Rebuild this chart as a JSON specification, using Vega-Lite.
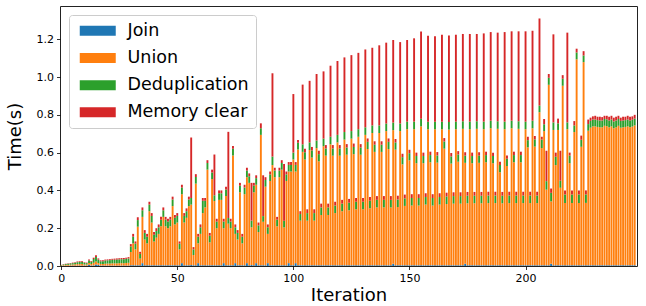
{
"$schema": "https://vega.github.io/schema/vega-lite/v6.json",
"width": 577, "height": 260,
"autosize": {"type": "none"},
"padding": {"left": 60, "top": 6, "right": 9, "bottom": 40},
"config": {
 "font": "DejaVu Sans",
 "view": {"stroke": "#222", "strokeWidth": 1},
 "axis": {"grid": false, "domain": false, "tickColor": "#000", "tickSize": 3.5, "tickWidth": 0.8, "labelColor": "#000", "labelFontSize": 11, "labelFont": "DejaVu Sans", "titleFont": "DejaVu Sans", "titleFontSize": 18, "titleFontWeight": "normal", "titleColor": "#000"}
},
"data": {"values": [
{"i":0,"Join":0.001,"Union":0.002,"Deduplication":0.002,"Memory clear":0.001},
{"i":1,"Join":0.001,"Union":0.003,"Deduplication":0.004,"Memory clear":0.002},
{"i":2,"Join":0.001,"Union":0.004,"Deduplication":0.005,"Memory clear":0.002},
{"i":3,"Join":0.001,"Union":0.005,"Deduplication":0.006,"Memory clear":0.002},
{"i":4,"Join":0.002,"Union":0.005,"Deduplication":0.007,"Memory clear":0.002},
{"i":5,"Join":0.002,"Union":0.006,"Deduplication":0.007,"Memory clear":0.003},
{"i":6,"Join":0.002,"Union":0.007,"Deduplication":0.008,"Memory clear":0.003},
{"i":7,"Join":0.002,"Union":0.008,"Deduplication":0.010,"Memory clear":0.004},
{"i":8,"Join":0.002,"Union":0.008,"Deduplication":0.011,"Memory clear":0.004},
{"i":9,"Join":0.002,"Union":0.009,"Deduplication":0.011,"Memory clear":0.004},
{"i":10,"Join":0.002,"Union":0.006,"Deduplication":0.009,"Memory clear":0.003},
{"i":11,"Join":0.002,"Union":0.006,"Deduplication":0.007,"Memory clear":0.003},
{"i":12,"Join":0.006,"Union":0.010,"Deduplication":0.013,"Memory clear":0.005},
{"i":13,"Join":0.002,"Union":0.008,"Deduplication":0.012,"Memory clear":0.004},
{"i":14,"Join":0.003,"Union":0.014,"Deduplication":0.020,"Memory clear":0.007},
{"i":15,"Join":0.008,"Union":0.016,"Deduplication":0.024,"Memory clear":0.009},
{"i":16,"Join":0.006,"Union":0.010,"Deduplication":0.018,"Memory clear":0.006},
{"i":17,"Join":0.002,"Union":0.009,"Deduplication":0.014,"Memory clear":0.005},
{"i":18,"Join":0.002,"Union":0.009,"Deduplication":0.014,"Memory clear":0.005},
{"i":19,"Join":0.002,"Union":0.010,"Deduplication":0.017,"Memory clear":0.005},
{"i":20,"Join":0.002,"Union":0.011,"Deduplication":0.017,"Memory clear":0.005},
{"i":21,"Join":0.002,"Union":0.011,"Deduplication":0.018,"Memory clear":0.005},
{"i":22,"Join":0.002,"Union":0.012,"Deduplication":0.019,"Memory clear":0.005},
{"i":23,"Join":0.002,"Union":0.012,"Deduplication":0.019,"Memory clear":0.006},
{"i":24,"Join":0.002,"Union":0.012,"Deduplication":0.020,"Memory clear":0.006},
{"i":25,"Join":0.002,"Union":0.013,"Deduplication":0.020,"Memory clear":0.006},
{"i":26,"Join":0.002,"Union":0.013,"Deduplication":0.021,"Memory clear":0.006},
{"i":27,"Join":0.002,"Union":0.013,"Deduplication":0.021,"Memory clear":0.007},
{"i":28,"Join":0.002,"Union":0.014,"Deduplication":0.022,"Memory clear":0.006},
{"i":29,"Join":0.002,"Union":0.015,"Deduplication":0.023,"Memory clear":0.007},
{"i":30,"Join":0.004,"Union":0.070,"Deduplication":0.030,"Memory clear":0.012},
{"i":31,"Join":0.004,"Union":0.116,"Deduplication":0.035,"Memory clear":0.015},
{"i":32,"Join":0.004,"Union":0.084,"Deduplication":0.030,"Memory clear":0.012},
{"i":33,"Join":0.004,"Union":0.204,"Deduplication":0.035,"Memory clear":0.015},
{"i":34,"Join":0.004,"Union":0.035,"Deduplication":0.025,"Memory clear":0.011},
{"i":35,"Join":0.015,"Union":0.245,"Deduplication":0.035,"Memory clear":0.015},
{"i":36,"Join":0.004,"Union":0.136,"Deduplication":0.035,"Memory clear":0.015},
{"i":37,"Join":0.004,"Union":0.116,"Deduplication":0.035,"Memory clear":0.015},
{"i":38,"Join":0.004,"Union":0.286,"Deduplication":0.035,"Memory clear":0.015},
{"i":39,"Join":0.004,"Union":0.226,"Deduplication":0.035,"Memory clear":0.015},
{"i":40,"Join":0.004,"Union":0.126,"Deduplication":0.035,"Memory clear":0.015},
{"i":41,"Join":0.004,"Union":0.146,"Deduplication":0.035,"Memory clear":0.015},
{"i":42,"Join":0.004,"Union":0.166,"Deduplication":0.035,"Memory clear":0.015},
{"i":43,"Join":0.004,"Union":0.206,"Deduplication":0.035,"Memory clear":0.015},
{"i":44,"Join":0.004,"Union":0.256,"Deduplication":0.035,"Memory clear":0.015},
{"i":45,"Join":0.004,"Union":0.206,"Deduplication":0.035,"Memory clear":0.015},
{"i":46,"Join":0.004,"Union":0.196,"Deduplication":0.035,"Memory clear":0.015},
{"i":47,"Join":0.004,"Union":0.206,"Deduplication":0.035,"Memory clear":0.015},
{"i":48,"Join":0.004,"Union":0.313,"Deduplication":0.035,"Memory clear":0.015},
{"i":49,"Join":0.004,"Union":0.216,"Deduplication":0.035,"Memory clear":0.015},
{"i":50,"Join":0.004,"Union":0.226,"Deduplication":0.035,"Memory clear":0.015},
{"i":51,"Join":0.004,"Union":0.084,"Deduplication":0.030,"Memory clear":0.012},
{"i":52,"Join":0.015,"Union":0.365,"Deduplication":0.035,"Memory clear":0.015},
{"i":53,"Join":0.004,"Union":0.226,"Deduplication":0.035,"Memory clear":0.015},
{"i":54,"Join":0.004,"Union":0.251,"Deduplication":0.035,"Memory clear":0.015},
{"i":55,"Join":0.004,"Union":0.313,"Deduplication":0.035,"Memory clear":0.015},
{"i":56,"Join":0.005,"Union":0.320,"Deduplication":0.035,"Memory clear":0.320},
{"i":57,"Join":0.004,"Union":0.054,"Deduplication":0.030,"Memory clear":0.012},
{"i":58,"Join":0.004,"Union":0.432,"Deduplication":0.035,"Memory clear":0.015},
{"i":59,"Join":0.015,"Union":0.105,"Deduplication":0.035,"Memory clear":0.015},
{"i":60,"Join":0.004,"Union":0.166,"Deduplication":0.035,"Memory clear":0.015},
{"i":61,"Join":0.004,"Union":0.276,"Deduplication":0.065,"Memory clear":0.015},
{"i":62,"Join":0.004,"Union":0.306,"Deduplication":0.035,"Memory clear":0.015},
{"i":63,"Join":0.004,"Union":0.506,"Deduplication":0.035,"Memory clear":0.015},
{"i":64,"Join":0.004,"Union":0.121,"Deduplication":0.035,"Memory clear":0.015},
{"i":65,"Join":0.004,"Union":0.456,"Deduplication":0.035,"Memory clear":0.015},
{"i":66,"Join":0.004,"Union":0.340,"Deduplication":0.030,"Memory clear":0.216},
{"i":67,"Join":0.004,"Union":0.196,"Deduplication":0.035,"Memory clear":0.015},
{"i":68,"Join":0.004,"Union":0.346,"Deduplication":0.035,"Memory clear":0.015},
{"i":69,"Join":0.004,"Union":0.346,"Deduplication":0.035,"Memory clear":0.015},
{"i":70,"Join":0.015,"Union":0.185,"Deduplication":0.035,"Memory clear":0.015},
{"i":71,"Join":0.004,"Union":0.366,"Deduplication":0.035,"Memory clear":0.015},
{"i":72,"Join":0.004,"Union":0.220,"Deduplication":0.030,"Memory clear":0.456},
{"i":73,"Join":0.004,"Union":0.196,"Deduplication":0.035,"Memory clear":0.015},
{"i":74,"Join":0.004,"Union":0.581,"Deduplication":0.035,"Memory clear":0.015},
{"i":75,"Join":0.015,"Union":0.155,"Deduplication":0.035,"Memory clear":0.015},
{"i":76,"Join":0.004,"Union":0.136,"Deduplication":0.035,"Memory clear":0.015},
{"i":77,"Join":0.004,"Union":0.386,"Deduplication":0.035,"Memory clear":0.015},
{"i":78,"Join":0.004,"Union":0.116,"Deduplication":0.035,"Memory clear":0.015},
{"i":79,"Join":0.004,"Union":0.376,"Deduplication":0.035,"Memory clear":0.015},
{"i":80,"Join":0.015,"Union":0.455,"Deduplication":0.035,"Memory clear":0.015},
{"i":81,"Join":0.004,"Union":0.436,"Deduplication":0.035,"Memory clear":0.015},
{"i":82,"Join":0.005,"Union":0.200,"Deduplication":0.035,"Memory clear":0.200},
{"i":83,"Join":0.004,"Union":0.386,"Deduplication":0.035,"Memory clear":0.015},
{"i":84,"Join":0.015,"Union":0.415,"Deduplication":0.035,"Memory clear":0.015},
{"i":85,"Join":0.004,"Union":0.176,"Deduplication":0.035,"Memory clear":0.015},
{"i":86,"Join":0.004,"Union":0.690,"Deduplication":0.035,"Memory clear":0.026},
{"i":87,"Join":0.004,"Union":0.230,"Deduplication":0.030,"Memory clear":0.216},
{"i":88,"Join":0.004,"Union":0.416,"Deduplication":0.035,"Memory clear":0.015},
{"i":89,"Join":0.015,"Union":0.155,"Deduplication":0.035,"Memory clear":0.015},
{"i":90,"Join":0.004,"Union":0.446,"Deduplication":0.035,"Memory clear":0.015},
{"i":91,"Join":0.004,"Union":0.530,"Deduplication":0.045,"Memory clear":0.441},
{"i":92,"Join":0.004,"Union":0.466,"Deduplication":0.035,"Memory clear":0.015},
{"i":93,"Join":0.004,"Union":0.206,"Deduplication":0.035,"Memory clear":0.015},
{"i":94,"Join":0.004,"Union":0.466,"Deduplication":0.035,"Memory clear":0.015},
{"i":95,"Join":0.004,"Union":0.506,"Deduplication":0.035,"Memory clear":0.015},
{"i":96,"Join":0.004,"Union":0.200,"Deduplication":0.035,"Memory clear":0.301},
{"i":97,"Join":0.004,"Union":0.446,"Deduplication":0.035,"Memory clear":0.015},
{"i":98,"Join":0.015,"Union":0.485,"Deduplication":0.035,"Memory clear":0.015},
{"i":99,"Join":0.004,"Union":0.496,"Deduplication":0.035,"Memory clear":0.015},
{"i":100,"Join":0.004,"Union":0.560,"Deduplication":0.036,"Memory clear":0.310},
{"i":101,"Join":0.015,"Union":0.485,"Deduplication":0.035,"Memory clear":0.015},
{"i":102,"Join":0.004,"Union":0.613,"Deduplication":0.035,"Memory clear":0.015},
{"i":103,"Join":0.004,"Union":0.236,"Deduplication":0.035,"Memory clear":0.015},
{"i":104,"Join":0.004,"Union":0.600,"Deduplication":0.040,"Memory clear":0.316},
{"i":105,"Join":0.004,"Union":0.560,"Deduplication":0.038,"Memory clear":0.018},
{"i":106,"Join":0.004,"Union":0.236,"Deduplication":0.040,"Memory clear":0.020},
{"i":107,"Join":0.004,"Union":0.610,"Deduplication":0.040,"Memory clear":0.326},
{"i":108,"Join":0.004,"Union":0.570,"Deduplication":0.038,"Memory clear":0.018},
{"i":109,"Join":0.004,"Union":0.236,"Deduplication":0.040,"Memory clear":0.020},
{"i":110,"Join":0.004,"Union":0.620,"Deduplication":0.040,"Memory clear":0.352},
{"i":111,"Join":0.004,"Union":0.550,"Deduplication":0.038,"Memory clear":0.018},
{"i":112,"Join":0.004,"Union":0.266,"Deduplication":0.040,"Memory clear":0.020},
{"i":113,"Join":0.004,"Union":0.630,"Deduplication":0.040,"Memory clear":0.356},
{"i":114,"Join":0.004,"Union":0.580,"Deduplication":0.038,"Memory clear":0.018},
{"i":115,"Join":0.004,"Union":0.266,"Deduplication":0.040,"Memory clear":0.020},
{"i":116,"Join":0.004,"Union":0.640,"Deduplication":0.040,"Memory clear":0.376},
{"i":117,"Join":0.004,"Union":0.580,"Deduplication":0.038,"Memory clear":0.018},
{"i":118,"Join":0.004,"Union":0.276,"Deduplication":0.040,"Memory clear":0.020},
{"i":119,"Join":0.004,"Union":0.650,"Deduplication":0.040,"Memory clear":0.391},
{"i":120,"Join":0.004,"Union":0.580,"Deduplication":0.038,"Memory clear":0.018},
{"i":121,"Join":0.004,"Union":0.286,"Deduplication":0.040,"Memory clear":0.020},
{"i":122,"Join":0.004,"Union":0.665,"Deduplication":0.040,"Memory clear":0.395},
{"i":123,"Join":0.004,"Union":0.585,"Deduplication":0.038,"Memory clear":0.018},
{"i":124,"Join":0.004,"Union":0.291,"Deduplication":0.040,"Memory clear":0.020},
{"i":125,"Join":0.004,"Union":0.670,"Deduplication":0.040,"Memory clear":0.402},
{"i":126,"Join":0.004,"Union":0.588,"Deduplication":0.038,"Memory clear":0.018},
{"i":127,"Join":0.004,"Union":0.296,"Deduplication":0.040,"Memory clear":0.020},
{"i":128,"Join":0.004,"Union":0.680,"Deduplication":0.040,"Memory clear":0.404},
{"i":129,"Join":0.004,"Union":0.585,"Deduplication":0.038,"Memory clear":0.018},
{"i":130,"Join":0.004,"Union":0.296,"Deduplication":0.040,"Memory clear":0.020},
{"i":131,"Join":0.004,"Union":0.690,"Deduplication":0.040,"Memory clear":0.412},
{"i":132,"Join":0.004,"Union":0.615,"Deduplication":0.038,"Memory clear":0.018},
{"i":133,"Join":0.004,"Union":0.301,"Deduplication":0.040,"Memory clear":0.020},
{"i":134,"Join":0.004,"Union":0.700,"Deduplication":0.040,"Memory clear":0.411},
{"i":135,"Join":0.004,"Union":0.600,"Deduplication":0.038,"Memory clear":0.018},
{"i":136,"Join":0.004,"Union":0.306,"Deduplication":0.040,"Memory clear":0.020},
{"i":137,"Join":0.004,"Union":0.700,"Deduplication":0.040,"Memory clear":0.424},
{"i":138,"Join":0.004,"Union":0.600,"Deduplication":0.038,"Memory clear":0.018},
{"i":139,"Join":0.004,"Union":0.306,"Deduplication":0.040,"Memory clear":0.020},
{"i":140,"Join":0.004,"Union":0.710,"Deduplication":0.040,"Memory clear":0.428},
{"i":141,"Join":0.004,"Union":0.615,"Deduplication":0.038,"Memory clear":0.018},
{"i":142,"Join":0.004,"Union":0.306,"Deduplication":0.040,"Memory clear":0.020},
{"i":143,"Join":0.012,"Union":0.707,"Deduplication":0.040,"Memory clear":0.437},
{"i":144,"Join":0.004,"Union":0.612,"Deduplication":0.038,"Memory clear":0.018},
{"i":145,"Join":0.004,"Union":0.308,"Deduplication":0.040,"Memory clear":0.020},
{"i":146,"Join":0.004,"Union":0.710,"Deduplication":0.040,"Memory clear":0.431},
{"i":147,"Join":0.004,"Union":0.534,"Deduplication":0.038,"Memory clear":0.018},
{"i":148,"Join":0.004,"Union":0.314,"Deduplication":0.040,"Memory clear":0.020},
{"i":149,"Join":0.004,"Union":0.720,"Deduplication":0.040,"Memory clear":0.432},
{"i":150,"Join":0.004,"Union":0.555,"Deduplication":0.038,"Memory clear":0.018},
{"i":151,"Join":0.004,"Union":0.316,"Deduplication":0.040,"Memory clear":0.020},
{"i":152,"Join":0.004,"Union":0.720,"Deduplication":0.040,"Memory clear":0.441},
{"i":153,"Join":0.004,"Union":0.540,"Deduplication":0.038,"Memory clear":0.018},
{"i":154,"Join":0.004,"Union":0.316,"Deduplication":0.040,"Memory clear":0.020},
{"i":155,"Join":0.004,"Union":0.735,"Deduplication":0.040,"Memory clear":0.462},
{"i":156,"Join":0.004,"Union":0.540,"Deduplication":0.038,"Memory clear":0.018},
{"i":157,"Join":0.004,"Union":0.321,"Deduplication":0.040,"Memory clear":0.020},
{"i":158,"Join":0.004,"Union":0.720,"Deduplication":0.040,"Memory clear":0.454},
{"i":159,"Join":0.004,"Union":0.545,"Deduplication":0.038,"Memory clear":0.018},
{"i":160,"Join":0.004,"Union":0.316,"Deduplication":0.040,"Memory clear":0.020},
{"i":161,"Join":0.004,"Union":0.720,"Deduplication":0.040,"Memory clear":0.452},
{"i":162,"Join":0.004,"Union":0.543,"Deduplication":0.038,"Memory clear":0.018},
{"i":163,"Join":0.004,"Union":0.321,"Deduplication":0.040,"Memory clear":0.020},
{"i":164,"Join":0.004,"Union":0.720,"Deduplication":0.040,"Memory clear":0.460},
{"i":165,"Join":0.004,"Union":0.617,"Deduplication":0.038,"Memory clear":0.018},
{"i":166,"Join":0.004,"Union":0.324,"Deduplication":0.040,"Memory clear":0.020},
{"i":167,"Join":0.004,"Union":0.718,"Deduplication":0.040,"Memory clear":0.458},
{"i":168,"Join":0.004,"Union":0.538,"Deduplication":0.038,"Memory clear":0.018},
{"i":169,"Join":0.004,"Union":0.326,"Deduplication":0.040,"Memory clear":0.020},
{"i":170,"Join":0.004,"Union":0.720,"Deduplication":0.040,"Memory clear":0.460},
{"i":171,"Join":0.004,"Union":0.548,"Deduplication":0.038,"Memory clear":0.018},
{"i":172,"Join":0.004,"Union":0.326,"Deduplication":0.040,"Memory clear":0.020},
{"i":173,"Join":0.004,"Union":0.722,"Deduplication":0.040,"Memory clear":0.462},
{"i":174,"Join":0.012,"Union":0.534,"Deduplication":0.038,"Memory clear":0.018},
{"i":175,"Join":0.004,"Union":0.328,"Deduplication":0.040,"Memory clear":0.020},
{"i":176,"Join":0.004,"Union":0.720,"Deduplication":0.040,"Memory clear":0.464},
{"i":177,"Join":0.004,"Union":0.540,"Deduplication":0.038,"Memory clear":0.018},
{"i":178,"Join":0.004,"Union":0.328,"Deduplication":0.040,"Memory clear":0.020},
{"i":179,"Join":0.004,"Union":0.722,"Deduplication":0.040,"Memory clear":0.462},
{"i":180,"Join":0.004,"Union":0.542,"Deduplication":0.038,"Memory clear":0.018},
{"i":181,"Join":0.004,"Union":0.328,"Deduplication":0.040,"Memory clear":0.020},
{"i":182,"Join":0.004,"Union":0.720,"Deduplication":0.040,"Memory clear":0.467},
{"i":183,"Join":0.004,"Union":0.545,"Deduplication":0.038,"Memory clear":0.018},
{"i":184,"Join":0.004,"Union":0.329,"Deduplication":0.040,"Memory clear":0.020},
{"i":185,"Join":0.004,"Union":0.725,"Deduplication":0.040,"Memory clear":0.469},
{"i":186,"Join":0.004,"Union":0.540,"Deduplication":0.038,"Memory clear":0.018},
{"i":187,"Join":0.004,"Union":0.329,"Deduplication":0.040,"Memory clear":0.020},
{"i":188,"Join":0.004,"Union":0.722,"Deduplication":0.040,"Memory clear":0.469},
{"i":189,"Join":0.004,"Union":0.492,"Deduplication":0.038,"Memory clear":0.018},
{"i":190,"Join":0.004,"Union":0.328,"Deduplication":0.040,"Memory clear":0.020},
{"i":191,"Join":0.004,"Union":0.720,"Deduplication":0.040,"Memory clear":0.474},
{"i":192,"Join":0.004,"Union":0.525,"Deduplication":0.038,"Memory clear":0.018},
{"i":193,"Join":0.004,"Union":0.329,"Deduplication":0.040,"Memory clear":0.020},
{"i":194,"Join":0.004,"Union":0.725,"Deduplication":0.040,"Memory clear":0.473},
{"i":195,"Join":0.004,"Union":0.545,"Deduplication":0.038,"Memory clear":0.018},
{"i":196,"Join":0.004,"Union":0.329,"Deduplication":0.040,"Memory clear":0.020},
{"i":197,"Join":0.004,"Union":0.722,"Deduplication":0.040,"Memory clear":0.476},
{"i":198,"Join":0.004,"Union":0.545,"Deduplication":0.038,"Memory clear":0.018},
{"i":199,"Join":0.004,"Union":0.329,"Deduplication":0.040,"Memory clear":0.020},
{"i":200,"Join":0.004,"Union":0.720,"Deduplication":0.040,"Memory clear":0.478},
{"i":201,"Join":0.004,"Union":0.624,"Deduplication":0.038,"Memory clear":0.018},
{"i":202,"Join":0.004,"Union":0.329,"Deduplication":0.040,"Memory clear":0.020},
{"i":203,"Join":0.004,"Union":0.725,"Deduplication":0.040,"Memory clear":0.476},
{"i":204,"Join":0.004,"Union":0.628,"Deduplication":0.038,"Memory clear":0.018},
{"i":205,"Join":0.004,"Union":0.329,"Deduplication":0.040,"Memory clear":0.020},
{"i":206,"Join":0.004,"Union":0.810,"Deduplication":0.035,"Memory clear":0.461},
{"i":207,"Join":0.004,"Union":0.620,"Deduplication":0.045,"Memory clear":0.015},
{"i":208,"Join":0.004,"Union":0.710,"Deduplication":0.036,"Memory clear":0.028},
{"i":209,"Join":0.004,"Union":0.400,"Deduplication":0.045,"Memory clear":0.161},
{"i":210,"Join":0.004,"Union":0.955,"Deduplication":0.037,"Memory clear":0.020},
{"i":211,"Join":0.012,"Union":0.330,"Deduplication":0.045,"Memory clear":0.023},
{"i":212,"Join":0.004,"Union":0.716,"Deduplication":0.040,"Memory clear":0.466},
{"i":213,"Join":0.004,"Union":0.530,"Deduplication":0.044,"Memory clear":0.022},
{"i":214,"Join":0.004,"Union":0.716,"Deduplication":0.035,"Memory clear":0.025},
{"i":215,"Join":0.004,"Union":0.410,"Deduplication":0.037,"Memory clear":0.159},
{"i":216,"Join":0.004,"Union":0.950,"Deduplication":0.037,"Memory clear":0.019},
{"i":217,"Join":0.004,"Union":0.330,"Deduplication":0.045,"Memory clear":0.021},
{"i":218,"Join":0.004,"Union":0.720,"Deduplication":0.036,"Memory clear":0.475},
{"i":219,"Join":0.004,"Union":0.540,"Deduplication":0.040,"Memory clear":0.016},
{"i":220,"Join":0.004,"Union":0.330,"Deduplication":0.045,"Memory clear":0.021},
{"i":221,"Join":0.004,"Union":0.705,"Deduplication":0.035,"Memory clear":0.023},
{"i":222,"Join":0.004,"Union":1.090,"Deduplication":0.036,"Memory clear":0.020},
{"i":223,"Join":0.004,"Union":0.330,"Deduplication":0.045,"Memory clear":0.021},
{"i":224,"Join":0.004,"Union":0.627,"Deduplication":0.037,"Memory clear":0.022},
{"i":225,"Join":0.004,"Union":1.075,"Deduplication":0.035,"Memory clear":0.023},
{"i":226,"Join":0.004,"Union":0.330,"Deduplication":0.045,"Memory clear":0.021},
{"i":227,"Join":0.004,"Union":0.712,"Deduplication":0.035,"Memory clear":0.024},
{"i":228,"Join":0.004,"Union":0.728,"Deduplication":0.036,"Memory clear":0.017},
{"i":229,"Join":0.004,"Union":0.735,"Deduplication":0.036,"Memory clear":0.017},
{"i":230,"Join":0.004,"Union":0.735,"Deduplication":0.036,"Memory clear":0.020},
{"i":231,"Join":0.004,"Union":0.732,"Deduplication":0.036,"Memory clear":0.018},
{"i":232,"Join":0.004,"Union":0.730,"Deduplication":0.036,"Memory clear":0.020},
{"i":233,"Join":0.004,"Union":0.730,"Deduplication":0.036,"Memory clear":0.018},
{"i":234,"Join":0.004,"Union":0.738,"Deduplication":0.036,"Memory clear":0.017},
{"i":235,"Join":0.004,"Union":0.736,"Deduplication":0.036,"Memory clear":0.019},
{"i":236,"Join":0.004,"Union":0.730,"Deduplication":0.036,"Memory clear":0.020},
{"i":237,"Join":0.004,"Union":0.735,"Deduplication":0.036,"Memory clear":0.020},
{"i":238,"Join":0.004,"Union":0.725,"Deduplication":0.036,"Memory clear":0.020},
{"i":239,"Join":0.004,"Union":0.730,"Deduplication":0.036,"Memory clear":0.020},
{"i":240,"Join":0.004,"Union":0.738,"Deduplication":0.036,"Memory clear":0.017},
{"i":241,"Join":0.004,"Union":0.728,"Deduplication":0.036,"Memory clear":0.017},
{"i":242,"Join":0.004,"Union":0.730,"Deduplication":0.036,"Memory clear":0.020},
{"i":243,"Join":0.004,"Union":0.732,"Deduplication":0.036,"Memory clear":0.018},
{"i":244,"Join":0.004,"Union":0.735,"Deduplication":0.036,"Memory clear":0.020},
{"i":245,"Join":0.004,"Union":0.730,"Deduplication":0.036,"Memory clear":0.020},
{"i":246,"Join":0.004,"Union":0.734,"Deduplication":0.036,"Memory clear":0.018},
{"i":247,"Join":0.004,"Union":0.740,"Deduplication":0.036,"Memory clear":0.020}
]},
"transform": [
 {"fold": ["Join", "Union", "Deduplication", "Memory clear"], "as": ["series", "time"]},
 {"lookup": "series", "from": {"data": {"values": [{"name": "Join", "rank": 0}, {"name": "Union", "rank": 1}, {"name": "Deduplication", "rank": 2}, {"name": "Memory clear", "rank": 3}]}, "key": "name", "fields": ["rank"]}}
],
"mark": {"type": "bar", "size": 1.9, "strokeWidth": 0},
"encoding": {
 "x": {"field": "i", "type": "quantitative", "scale": {"domain": [-0.5, 248], "nice": false, "zero": false, "padding": 0},
  "axis": {"values": [0, 50, 100, 150, 200], "title": "Iteration", "labelPadding": 3, "titlePadding": 3, "labelFlush": false}},
 "y": {"field": "time", "type": "quantitative", "stack": "zero", "scale": {"domain": [0, 1.376], "nice": false, "padding": 0},
  "axis": {"values": [0, 0.2, 0.4, 0.6, 0.8, 1.0, 1.2], "format": ".1f", "title": "Time(s)", "labelPadding": 3, "titlePadding": 12}},
 "color": {"field": "series", "type": "nominal",
  "scale": {"domain": ["Join", "Union", "Deduplication", "Memory clear"], "range": ["#1f77b4", "#ff7f0e", "#2ca02c", "#d62728"]},
  "legend": {"orient": "none", "legendX": 9, "legendY": 9, "title": null, "symbolType": "M-3.6,-1H3.6V1H-3.6Z", "symbolSize": 100, "symbolOffset": 13, "symbolStrokeWidth": 0, "symbolOpacity": 1, "labelFontSize": 17.5, "labelFont": "DejaVu Sans", "labelColor": "#000", "labelOffset": 21, "rowPadding": 8.2, "padding": 7, "strokeColor": "#ccc", "fillColor": "rgba(255,255,255,0.8)", "cornerRadius": 3}},
 "order": {"field": "rank", "type": "quantitative", "sort": "ascending"}
}
}
